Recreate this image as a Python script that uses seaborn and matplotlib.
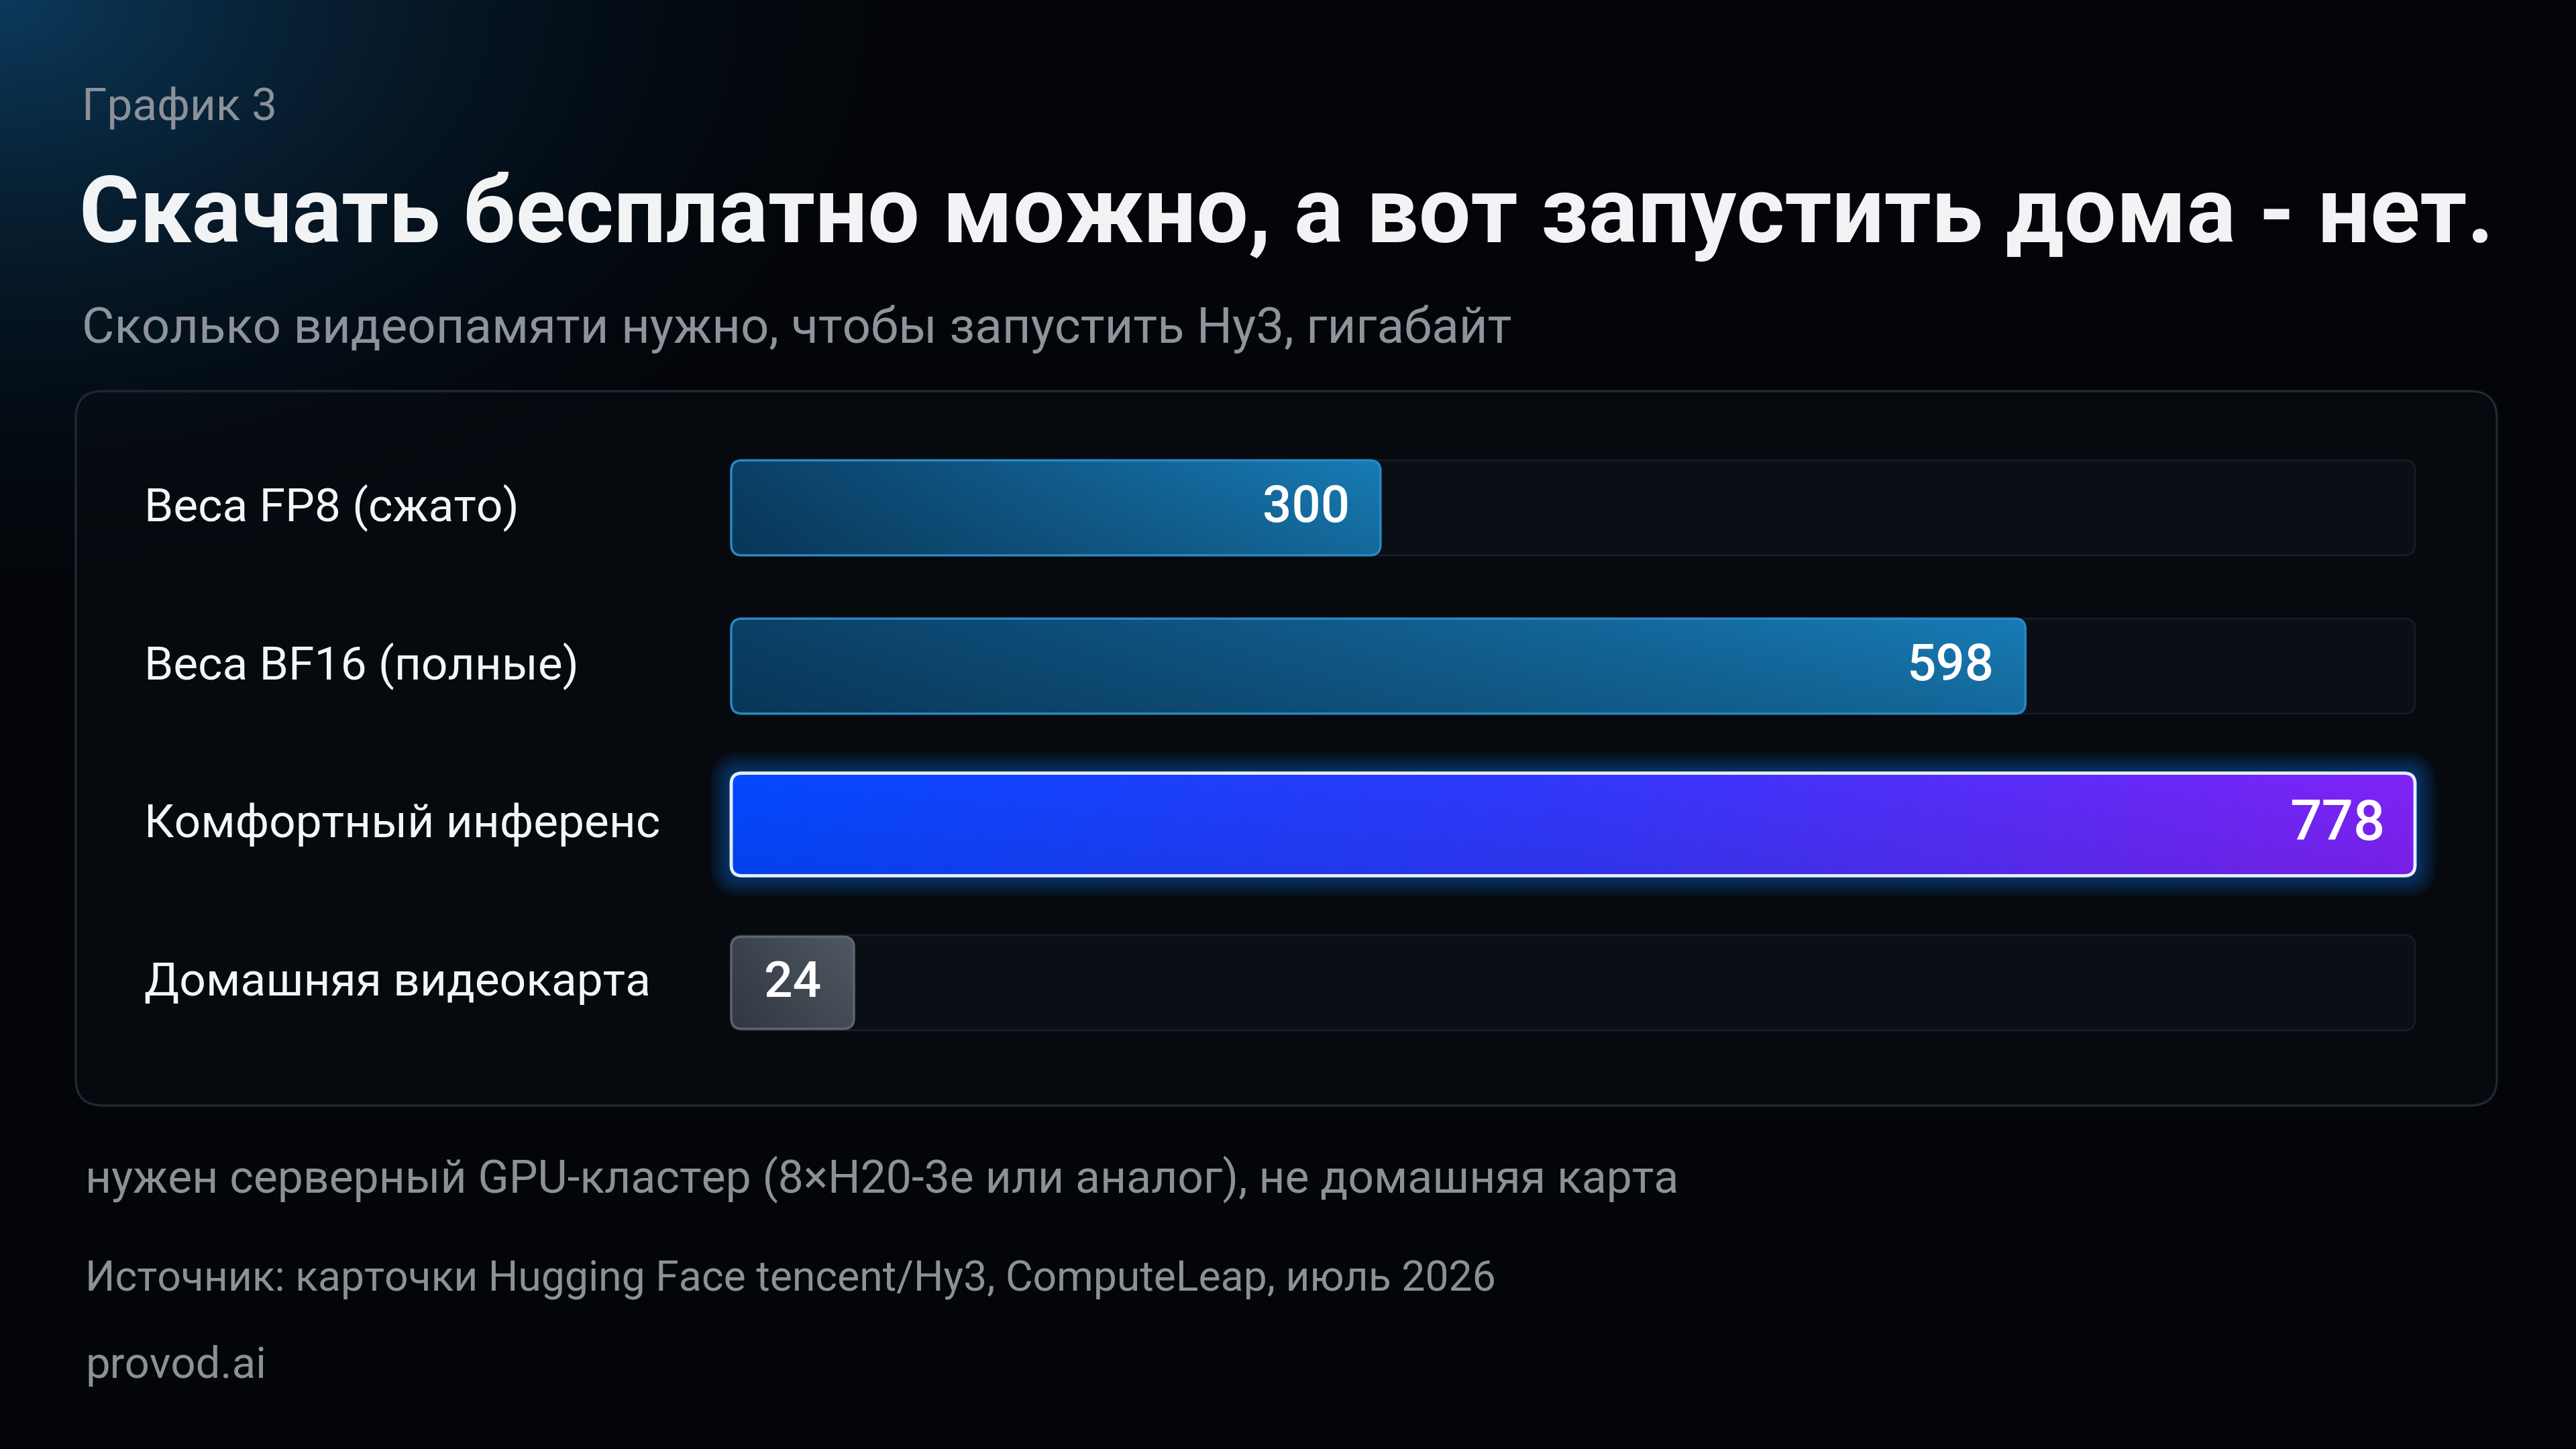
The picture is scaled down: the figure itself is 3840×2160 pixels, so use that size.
import numpy as np
import matplotlib
matplotlib.use("Agg")
import matplotlib.pyplot as plt
import seaborn as sns
from matplotlib.patches import FancyBboxPatch
from matplotlib.colors import LinearSegmentedColormap

# data
categories = ["Веса FP8 (сжато)", "Веса BF16 (полные)", "Комфортный инференс", "Домашняя видеокарта"]
vram_gb = [300, 598, 778, 24]
value_labels = ["300", "598", "778", "24"]
bar_kind = ["blue", "blue", "accent", "gray"]

kicker = "График 3"
title = "Скачать бесплатно можно, а вот запустить дома - нет."
subtitle = "Сколько видеопамяти нужно, чтобы запустить Hy3, гигабайт"
note = "нужен серверный GPU-кластер (8×H20-3e или аналог), не домашняя карта"
source = "Источник: карточки Hugging Face tencent/Hy3, ComputeLeap, июль 2026"
brand = "provod.ai"

W, H = 3840, 2160
BG = "#030509"

sns.set_theme(style="white")
plt.rcParams["font.family"] = ["Roboto", "DejaVu Sans"]

fig = plt.figure(figsize=(W / 100, H / 100), dpi=100)
fig.patch.set_facecolor(BG)

# overlay in pixel coords (y up)
ov = fig.add_axes([0, 0, 1, 1], zorder=2)
ov.set_facecolor("none")
ov.axis("off")

# background with a blue glow in the top-left corner
yy, xx = np.mgrid[0:H:4, 0:W:4]
d = np.sqrt((xx / 1450.0) ** 2 + (yy / 950.0) ** 2)
g = np.clip(1 - d, 0, 1) ** 1.8
base = np.array([3, 5, 9]) / 255.0
glow = np.array([12, 58, 92]) / 255.0
bg_img = base[None, None, :] * (1 - g[..., None]) + glow[None, None, :] * g[..., None]
ov.imshow(bg_img, extent=(0, W, 0, H), origin="upper", aspect="auto", zorder=0,
          interpolation="bilinear")


def rbox(x0, y0, w, h, r, z, **kw):
    p = FancyBboxPatch((x0, y0), w, h, boxstyle=f"round,pad=0,rounding_size={r}",
                       zorder=z, **kw)
    ov.add_patch(p)
    return p


def gradient_fill(patch, x0, y0, w, h, colors, z, shade=0.10):
    cmap = LinearSegmentedColormap.from_list("g", colors)
    rgb = cmap(np.linspace(0, 1, 256))[None, :, :3].repeat(32, axis=0)
    v = np.linspace(1 + shade, 1 - shade, 32)[:, None, None]
    rgb = np.clip(rgb * v, 0, 1)
    im = ov.imshow(rgb, extent=(x0, x0 + w, y0, y0 + h), origin="upper", aspect="auto",
                   zorder=z, interpolation="bilinear")
    im.set_clip_path(patch)
    return im


# panel (slightly see-through so the corner glow shows)
rbox(113, H - 1648, 3722 - 113, 1648 - 583, 40, 1, fc=(0.035, 0.05, 0.075, 0.55),
     ec="#1f2832", lw=2.5)

# bar chart axes (seaborn places the bars, drawn again with rounded styling)
ax = fig.add_axes([1090 / W, 1 - 1583 / H, 2510 / W, 944 / H], zorder=1)
sns.barplot(x=vram_gb, y=categories, orient="h", width=0.6, color="#1672a8", ax=ax)
ax.set_xlim(0, max(vram_gb))
ax.set_ylim(len(categories) - 0.5, -0.5)
ax.axis("off")
ax.set_facecolor("none")

to_px = ax.transData.transform
renderer = fig.canvas.get_renderer()

for i, (p, cat, lab, kind) in enumerate(zip(ax.patches, categories, value_labels, bar_kind)):
    p.set_visible(False)
    (x0, y0), (x1, y1) = to_px([[p.get_x(), p.get_y() + p.get_height()],
                                [p.get_x() + p.get_width(), p.get_y()]])
    yc = (y0 + y1) / 2
    h = y1 - y0
    tx1 = to_px([[max(vram_gb), 0]])[0][0]
    # track
    rbox(x0, yc - h / 2, tx1 - x0, h, 16, 3, fc="#0a0f15", ec="#161d25", lw=2)

    if kind == "accent":
        h = h * 1.08
        w = x1 - x0
        for k in range(1, 14):
            rbox(x0 - 2.5 * k, yc - h / 2 - 2.5 * k, w + 5 * k, h + 5 * k, 16 + 2.5 * k, 4,
                 fc="#1a86ff", ec="none", alpha=0.035)
        bar = rbox(x0, yc - h / 2, w, h, 16, 5, fc="none", ec="none")
        gradient_fill(bar, x0, yc - h / 2, w, h, ["#0445f6", "#3036f2", "#7b22ee"], 5, 0.04)
        rbox(x0, yc - h / 2, w, h, 16, 6, fc="none", ec="#e6ecff", lw=3.5)
        ov.text(x1 - 44, yc, lab, color="white", fontsize=60, fontweight="medium",
                ha="right", va="center", zorder=7)
    elif kind == "gray":
        h = h * 0.97
        w = max(x1 - x0, 183)
        bar = rbox(x0, yc - h / 2, w, h, 16, 5, fc="none", ec="none")
        gradient_fill(bar, x0, yc - h / 2, w, h, ["#363d47", "#4a525c"], 5, 0.08)
        rbox(x0, yc - h / 2, w, h, 16, 6, fc="none", ec="#5d6570", lw=2.5)
        ov.text(x0 + w / 2, yc, lab, color="white", fontsize=54, fontweight="medium",
                ha="center", va="center", zorder=7)
    else:
        w = x1 - x0
        bar = rbox(x0, yc - h / 2, w, h, 16, 5, fc="none", ec="none")
        gradient_fill(bar, x0, yc - h / 2, w, h, ["#0a3b5f", "#1672a8"], 5, 0.08)
        rbox(x0, yc - h / 2, w, h, 16, 6, fc="none", ec="#2a88c4", lw=2.5)
        ov.text(x1 - 46, yc, lab, color="white", fontsize=55, fontweight="medium",
                ha="right", va="center", zorder=7)

    ov.text(215, yc, cat, color="#f3f5f8", fontsize=50, fontweight="normal",
            ha="left", va="center", zorder=7)


def fit_text(x, y, s, target_w, size, **kw):
    t = ov.text(x, y, s, fontsize=size, zorder=7, **kw)
    w = t.get_window_extent(renderer).width
    t.set_fontsize(size * target_w / w)
    return t


fit_text(122, H - 179, kicker, 291, 46, color="#8b9099", ha="left", va="baseline")
fit_text(118, H - 361, title, 3600, 100, color="#f2f3f5", fontweight="bold",
         ha="left", va="baseline")
fit_text(122, H - 511, subtitle, 2131, 52, color="#8e939c", ha="left", va="baseline")
fit_text(127, H - 1777, note, 2371, 44, color="#8c9097", ha="left", va="baseline")
fit_text(127, H - 1924, source, 2106, 42, color="#8c9097", ha="left", va="baseline")
fit_text(127, H - 2054, brand, 270, 42, color="#8c9097", ha="left", va="baseline")

ov.set_xlim(0, W)
ov.set_ylim(0, H)

fig.savefig("out.png", dpi=100, facecolor=BG)
